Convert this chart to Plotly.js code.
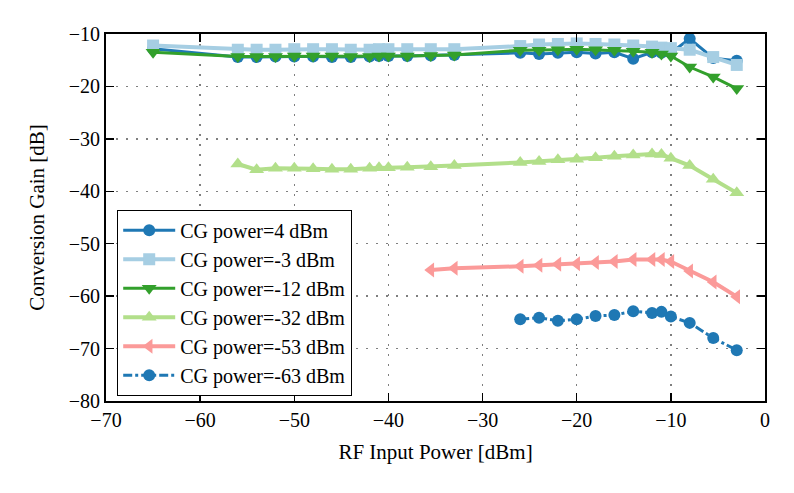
<!DOCTYPE html>
<html>
<head>
<meta charset="utf-8">
<script src="https://cdn.plot.ly/plotly-3.0.1.min.js"></script>
<style>html,body{margin:0;padding:0;background:#fff;}#chart{width:794px;height:493px;}</style>
</head>
<body>
<div id="chart"></div>
<script>
// RF input power (dBm)
const xTop = [-65, -56, -54, -52, -50, -48, -46, -44, -42, -41, -40, -38, -35.5, -33, -26, -24, -22, -20, -18, -16, -14, -12, -11, -10, -8, -5.5, -3];
const xMid = [-56, -54, -52, -50, -48, -46, -44, -42, -41, -40, -38, -35.5, -33, -26, -24, -22, -20, -18, -16, -14, -12, -11, -10, -8, -5.5, -3];
const xLow = [-35.5, -33, -26, -24, -22, -20, -18, -16, -14, -12, -11, -10, -8, -5.5, -3];
const xBot = [-26, -24, -22, -20, -18, -16, -14, -12, -11, -10, -8, -5.5, -3];

// Conversion gain (dB)
const cg4 = [-12.8, -14.4, -14.4, -14.3, -14.3, -14.3, -14.4, -14.4, -14.3, -14.2, -14.2, -14.2, -14.1, -14.0, -13.6, -13.8, -13.6, -13.5, -13.7, -13.5, -14.7, -13.5, -13.6, -13.6, -10.9, -14.6, -15.1];
const cgm3 = [-12.2, -13.0, -13.0, -13.0, -12.9, -12.9, -12.9, -13.0, -13.0, -12.9, -12.9, -12.9, -12.9, -12.9, -12.3, -12.0, -11.9, -11.8, -11.9, -12.0, -12.2, -12.4, -12.6, -12.7, -13.0, -14.4, -15.9];
const cgm12 = [-13.5, -14.3, -14.3, -14.3, -14.2, -14.2, -14.2, -14.3, -14.3, -14.2, -14.2, -14.2, -14.1, -14.0, -13.1, -13.1, -13.0, -12.9, -13.0, -13.1, -13.3, -13.5, -13.8, -14.2, -16.3, -18.2, -20.4];
const cgm32 = [-34.8, -35.9, -35.6, -35.6, -35.7, -35.8, -35.8, -35.6, -35.5, -35.5, -35.4, -35.3, -35.1, -34.5, -34.3, -34.0, -33.9, -33.6, -33.3, -33.1, -32.9, -33.0, -33.7, -35.1, -37.7, -40.3];
const cgm53 = [-55.0, -54.7, -54.3, -54.1, -53.9, -53.8, -53.6, -53.4, -53.0, -53.0, -53.0, -53.4, -55.2, -57.3, -60.1];
const cgm63 = [-64.4, -64.1, -64.7, -64.4, -63.8, -63.6, -62.9, -63.2, -63.0, -63.9, -65.1, -68.0, -70.3];

const names = ['CG power=4 dBm', 'CG power=-3 dBm', 'CG power=-12 dBm', 'CG power=-32 dBm', 'CG power=-53 dBm', 'CG power=-63 dBm'];

const traces = [
  {x: xTop, y: cg4, name: names[0], mode: 'lines+markers',
   line: {color: '#1f78b4', width: 3}, marker: {symbol: 'circle', size: 12, color: '#1f78b4'}},
  {x: xTop, y: cgm3, name: names[1], mode: 'lines+markers',
   line: {color: '#a6cee3', width: 4}, marker: {symbol: 'square', size: 12, color: '#a6cee3'}},
  {x: xTop, y: cgm12, name: names[2], mode: 'lines+markers',
   line: {color: '#33a02c', width: 3}, marker: {symbol: 'triangle-down', size: 13, color: '#33a02c'}},
  {x: xMid, y: cgm32, name: names[3], mode: 'lines+markers',
   line: {color: '#b2df8a', width: 4}, marker: {symbol: 'triangle-up', size: 13, color: '#b2df8a'}},
  {x: xLow, y: cgm53, name: names[4], mode: 'lines+markers',
   line: {color: '#fb9a99', width: 4}, marker: {symbol: 'triangle-left', size: 13, color: '#fb9a99'}},
  {x: xBot, y: cgm63, name: names[5], mode: 'lines+markers',
   line: {color: '#1f78b4', width: 3, dash: 'dashdot'}, marker: {symbol: 'circle', size: 12, color: '#1f78b4'}}
];

const font = {family: 'Liberation Serif, Times New Roman, serif', size: 20, color: '#000'};
const titleFont = {family: font.family, size: 21, color: '#000'};

const axisCommon = {
  showline: true, linecolor: '#000', linewidth: 2, mirror: 'ticks',
  ticks: 'inside', ticklen: 8, tickwidth: 1.5, tickcolor: '#000',
  showgrid: true, gridcolor: '#7f7f7f', gridwidth: 1.5, griddash: '2px,8px',
  zeroline: false, tickfont: font, dtick: 10
};

const layout = {
  width: 794, height: 493,
  margin: {l: 106, r: 29, t: 34, b: 92},
  paper_bgcolor: '#fff', plot_bgcolor: '#fff',
  font: font,
  showlegend: true,
  xaxis: Object.assign({}, axisCommon, {range: [-70, 0], tick0: -70,
    title: {text: 'RF Input Power [dBm]', font: titleFont, standoff: 14}}),
  yaxis: Object.assign({}, axisCommon, {range: [-80, -10], tick0: -80,
    title: {text: 'Conversion Gain [dB]', font: titleFont, standoff: 18}}),
  legend: {x: 0.017, y: 0.014, xanchor: 'left', yanchor: 'bottom',
    bgcolor: '#fff', bordercolor: '#000', borderwidth: 1,
    font: {family: font.family, size: 20, color: '#000'}, itemwidth: 52, tracegroupgap: 0}
};

Plotly.newPlot('chart', traces, layout, {displayModeBar: false, staticPlot: true});
</script>
</body>
</html>
